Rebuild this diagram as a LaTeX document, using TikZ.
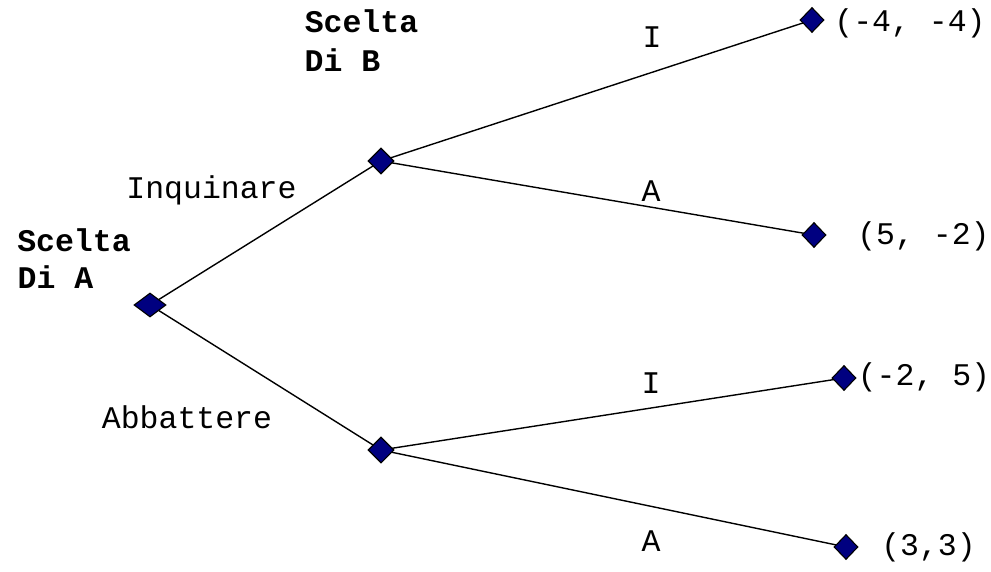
\documentclass[tikz,border=0pt]{standalone}
\usepackage{fontspec}
\setmainfont{Liberation Mono}
\usetikzlibrary{shapes.geometric,backgrounds}
\definecolor{navyfill}{RGB}{0,0,128}
\tikzset{
  dnode/.style={diamond, draw=black, line width=1.1pt, fill=navyfill, inner sep=0pt, minimum width=26pt, minimum height=26pt},
  leafnode/.style={dnode, minimum width=24pt, minimum height=25pt},
  rootnode/.style={dnode, minimum width=32pt, minimum height=24pt},
  edge/.style={draw=black, line width=1.4pt},
  lbl/.style={inner sep=0pt, anchor=base, font=\fontsize{31.5}{36}\selectfont},
  blbl/.style={lbl, font=\fontsize{31.5}{36}\selectfont\bfseries},
}
\begin{document}
\begin{tikzpicture}[x=1pt, y=-1pt]
\useasboundingbox (0,0) rectangle (991,572);
% decision and end nodes
\node[rootnode] (r) at (150,305) {};
\node[dnode] (b1) at (381,161) {};
\node[dnode] (b2) at (381,450) {};
\node[leafnode] (l1) at (812,20) {};
\node[leafnode] (l2) at (814,235) {};
\node[leafnode] (l3) at (844,378) {};
\node[leafnode] (l4) at (846,547) {};
% connectors
\begin{scope}[on background layer]
\draw[edge] (r.center) -- (b1.center);
\draw[edge] (r.center) -- (b2.center);
\draw[edge] (b1.center) -- (l1.center);
\draw[edge] (b1.center) -- (l2.center);
\draw[edge] (b2.center) -- (l3.center);
\draw[edge] (b2.center) -- (l4.center);
\end{scope}
% player labels
\node[blbl] (sa1) at (74,252) {Scelta};
\node[blbl] (sa2) at (55.5,288) {Di A};
\node[blbl] (sb1) at (361.5,33) {Scelta};
\node[blbl] (sb2) at (342.5,72) {Di B};
% move labels
\node[lbl] (m1) at (211.5,199) {Inquinare};
\node[lbl] (m2) at (187,428) {Abbattere};
\node[lbl] (m3) at (652,48) {I};
\node[lbl] (m4) at (651,202) {A};
\node[lbl] (m5) at (651,393) {I};
\node[lbl] (m6) at (651,551) {A};
% payoffs
\node[lbl] (p1) at (910,32) {(-4, -4)};
\node[lbl] (p2) at (923.5,245) {(5, -2)};
\node[lbl] (p3) at (924,385) {(-2, 5)};
\node[lbl] (p4) at (928.5,555) {(3,3)};
\end{tikzpicture}
\end{document}
